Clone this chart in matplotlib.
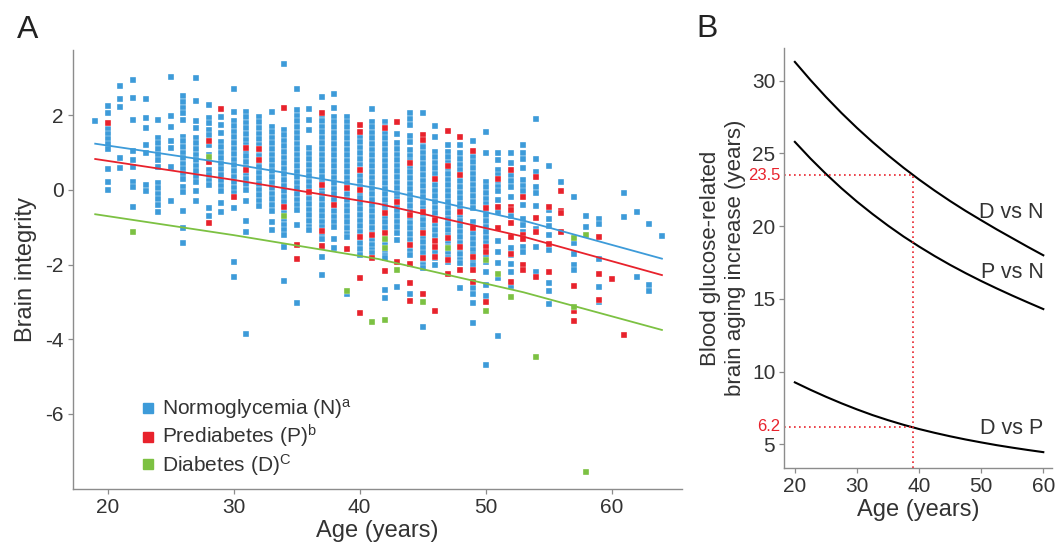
import matplotlib
matplotlib.use('Agg')
import matplotlib.pyplot as plt
from matplotlib.lines import Line2D

plt.rcParams['font.family'] = ['Liberation Sans', 'DejaVu Sans']
plt.rcParams['axes.unicode_minus'] = False
plt.rcParams['mathtext.fontset'] = 'custom'
plt.rcParams['mathtext.rm'] = 'Liberation Sans'
plt.rcParams['mathtext.it'] = 'Liberation Sans'

# ---------------- Panel A data ----------------
normo_ages = [19, 20, 21, 22, 23, 24, 25, 26, 27, 28, 29, 30, 31, 32, 33, 34, 35, 36, 37, 38, 39,
              40, 41, 42, 43, 44, 45, 46, 47, 48, 49, 50, 51, 52, 53, 54, 55, 56, 57, 58, 59,
              61, 62, 63, 64]
normo_vals = [
    [1.86],
    [2.26, 2.05, 1.63, 1.5, 1.37, 1.24, 1.1, 0.56, 0.22, 0.0],
    [2.78, 2.43, 2.21, 0.85, 0.6],
    [2.96, 2.46, 1.87, 1.04, 0.8, 0.62, 0.22, 0.09, -0.46],
    [2.43, 1.94, 1.67, 1.2, 0.98, 0.13, -0.03],
    [1.88, 1.4, 1.25, 1.1, 0.95, 0.8, 0.62, 0.18, 0.05, -0.1, -0.25, -0.4, -0.58],
    [3.04, 1.99, 1.7, 1.31, 1.12, 0.62, -0.29],
    [2.52, 2.35, 2.2, 2.05, 1.88, 1.43, 1.3, 1.15, 1.0, 0.85, 0.7, 0.55, 0.42, 0.29, 0.09, -0.06,
     -0.56, -1.03, -1.43],
    [2.99, 2.39, 1.85, 1.65, 1.38, 1.25, 1.1, 0.95, 0.8, 0.65, 0.5, 0.36, 0.22, -0.04, -0.29],
    [2.29, 1.94, 1.8, 1.6, 1.47, 1.2, 0.94, 0.54, 0.4, 0.25, 0.13, -0.47, -0.71],
    [1.96, 1.74, 1.54, 1.28, 1.15, 1.0, 0.85, 0.7, 0.55, 0.4, 0.25, 0.1, -0.03, -0.36, -0.58],
    [2.7, 2.1, 1.86, 1.71, 1.56, 1.41, 1.26, 1.11, 0.96, 0.81, 0.66, 0.51, 0.36, 0.21, 0.06, -0.09,
     -0.49, -1.92, -2.32],
    [2.1, 1.95, 1.8, 1.65, 1.5, 1.35, 1.2, 1.05, 0.9, 0.75, 0.6, 0.45, 0.3, 0.15, 0.0, -0.29,
     -0.82, -1.12, -3.87],
    [1.96, 1.81, 1.66, 1.51, 1.36, 1.21, 1.06, 0.91, 0.76, 0.61, 0.46, 0.31, 0.16, 0.01, -0.14,
     -0.29, -0.44],
    [2.1, 1.7, 1.55, 1.4, 1.25, 1.1, 0.95, 0.8, 0.65, 0.5, 0.35, 0.2, 0.05, -0.1, -0.25, -0.4,
     -0.55, -0.85, -1.07],
    [3.37, 1.61, 1.47, 1.32, 1.17, 1.02, 0.87, 0.72, 0.57, 0.42, 0.27, 0.12, -0.03, -0.18, -0.33,
     -0.48, -0.63, -0.78, -0.93, -1.08, -1.2, -1.52, -2.44],
    [2.7, 2.14, 1.99, 1.84, 1.69, 1.54, 1.39, 1.24, 1.09, 0.94, 0.79, 0.64, 0.49, 0.34, 0.19, 0.04,
     -0.11, -0.26, -0.41, -0.54, -0.94, -3.02],
    [2.17, 1.88, 1.61, 1.12, 0.97, 0.82, 0.67, 0.52, 0.37, 0.22, 0.07, -0.08, -0.23, -0.38, -0.53,
     -0.68, -0.83, -0.98, -1.07],
    [2.48, 2.0, 1.85, 1.7, 1.55, 1.4, 1.25, 1.1, 0.95, 0.8, 0.65, 0.5, 0.35, 0.2, 0.05, -0.1,
     -0.25, -0.4, -0.55, -0.7, -0.85, -1.0, -1.15, -1.3, -1.52, -1.79, -2.28],
    [2.56, 2.2, 1.96, 1.83, 1.68, 1.53, 1.38, 1.23, 1.08, 0.93, 0.78, 0.63, 0.48, 0.33, 0.18, 0.03,
     -0.12, -0.27, -0.42, -0.57, -0.72, -0.87, -0.98, -1.3, -1.55],
    [1.96, 1.83, 1.68, 1.53, 1.38, 1.23, 1.08, 0.93, 0.78, 0.63, 0.48, 0.33, 0.18, 0.03, -0.12,
     -0.27, -0.42, -0.57, -0.72, -0.87, -1.02, -1.17, -1.25, -2.8],
    [1.43, 1.28, 1.13, 0.98, 0.83, 0.68, 0.53, 0.38, 0.23, 0.08, -0.07, -0.22, -0.37, -0.52, -0.67,
     -0.82, -0.97, -1.12, -1.27, -1.42, -1.57, -1.74],
    [2.17, 1.83, 1.68, 1.53, 1.38, 1.23, 1.08, 0.93, 0.78, 0.63, 0.48, 0.33, 0.18, 0.03, -0.12,
     -0.27, -0.42, -0.57, -0.72, -0.87, -1.02, -1.17, -1.32, -1.47, -1.62, -1.7],
    [1.83, 1.68, 1.53, 1.38, 1.23, 1.08, 0.93, 0.78, 0.63, 0.48, 0.33, 0.18, 0.03, -0.12, -0.27,
     -0.42, -0.57, -0.72, -0.87, -1.02, -1.17, -1.32, -1.47, -1.62, -1.77, -1.83, -2.68, -2.9],
    [1.49, 1.25, 1.1, 0.95, 0.8, 0.65, 0.5, 0.35, 0.2, 0.05, -0.1, -0.25, -0.4, -0.55, -0.7, -0.85,
     -1.0, -1.15, -1.34, -2.59],
    [2.05, 1.9, 1.74, 1.45, 1.28, 1.07, 0.92, 0.77, 0.62, 0.47, 0.32, 0.17, 0.02, -0.13, -0.28,
     -0.43, -0.58, -0.73, -0.88, -1.03, -1.18, -1.33, -1.48, -1.63, -1.74, -2.8],
    [2.05, 1.3, 1.15, 1.0, 0.85, 0.7, 0.55, 0.4, 0.25, 0.1, -0.05, -0.2, -0.35, -0.5, -0.65, -0.8,
     -0.95, -1.1, -1.25, -1.4, -1.55, -1.7, -1.85, -2.0, -2.1, -3.68],
    [1.72, 1.42, 1.03, 0.88, 0.73, 0.58, 0.43, 0.28, 0.13, -0.02, -0.17, -0.32, -0.47, -0.62,
     -0.77, -0.92, -1.07, -1.22, -1.37, -1.52, -1.67, -1.82, -2.0],
    [1.2, 1.03, 0.88, 0.73, 0.58, 0.43, 0.28, 0.13, -0.02, -0.17, -0.32, -0.47, -0.62, -0.77,
     -0.92, -1.07, -1.22, -1.37, -1.52, -1.67, -1.82, -1.92],
    [1.2, 0.98, 0.83, 0.68, 0.53, 0.38, 0.23, 0.08, -0.07, -0.22, -0.37, -0.52, -0.67, -0.82,
     -0.97, -1.12, -1.27, -1.42, -1.57, -1.72, -1.87, -1.96, -2.63],
    [1.32, 0.89, 0.74, 0.59, 0.44, 0.29, 0.14, -0.01, -0.16, -0.31, -0.49, -0.85, -1.0, -1.15,
     -1.3, -1.45, -1.6, -1.75, -1.9, -2.0, -2.63, -2.8, -3.04, -3.57],
    [1.56, 0.98, 0.22, 0.07, -0.08, -0.23, -0.38, -0.53, -0.68, -0.83, -0.98, -1.13, -1.28, -1.43,
     -1.58, -1.73, -1.92, -2.21, -2.54, -2.83, -4.69],
    [1.0, 0.8, 0.54, 0.39, 0.24, 0.09, -0.04, -0.27, -0.58, -1.38, -1.65, -1.96, -2.37, -3.91],
    [1.0, 0.71, 0.4, 0.25, 0.09, -0.2, -0.7, -1.56, -1.74, -1.99, -2.19, -2.56],
    [1.2, 0.98, 0.83, 0.58, 0.27, 0.12, -0.02, -0.4, -0.78, -0.95, -1.12, -1.52, -1.65],
    [1.89, 0.83, 0.49, 0.09, -0.09, -0.43, -1.04, -1.52, -2.21],
    [0.63, -0.54, -0.79, -0.96, -1.21, -1.61, -2.5, -2.71, -3.06],
    [0.22],
    [-0.2, -1.43, -1.72, -2.01, -2.14],
    [-0.71, -1.0],
    [-0.79, -0.92, -1.86, -2.59, -3.01],
    [-0.09, -0.73],
    [-0.6, -2.34],
    [-0.92, -2.54, -2.71],
    [-1.23],
]

pre_ages = [20, 28, 29, 30, 31, 32, 34, 35, 36, 37, 38, 39, 40, 41, 42, 43, 44, 45, 46, 47, 48,
            49, 50, 51, 52, 53, 54, 55, 56, 57, 59, 60, 61]
pre_vals = [
    [1.79], [1.32, 0.76, -0.89], [2.16], [-0.2], [1.13, 0.54], [1.1, 0.8], [2.19, -0.45],
    [-1.47, -1.85], [-0.06], [2.05, 0.13, -1.1, -1.5], [-0.4], [0.04, -1.59],
    [1.73, 1.55, 0.54, 0.0, -1.25, -2.35, -3.3], [-1.2, -1.83], [1.65, -0.63, -1.16, -2.17],
    [1.81, -0.31, -1.92], [0.71, -0.67, -1.47, -1.99, -2.5, -2.97],
    [1.47, 1.34, -0.58, -1.16, -1.81, -2.78], [0.29, -0.8, -1.38, -1.52, -1.79, -3.24],
    [1.58, 0.63, -1.29, -1.88, -2.25], [1.43, 0.4, -0.58, -1.52, -2.14],
    [1.05, -1.03, -1.79, -2.14, -2.46], [-0.49, -1.52, -1.65, -3.01], [0.29, -0.45, -1.03],
    [0.54, -0.45, -0.54, -0.89, -1.25, -1.72, -2.46], [-0.2, -1.2, -1.3, -2.0, -2.15],
    [0.36, -0.76, -1.12, -2.32], [-0.45, -1.45, -2.21], [-0.02, -0.56, -0.63, -1.12],
    [-2.56, -3.23, -3.5], [-1.25, -2.26, -2.95], [-2.39], [-3.88],
]

diab_ages = [22, 28, 34, 39, 41, 42, 43, 45, 47, 50, 51, 52, 54, 57, 58]
diab_vals = [
    [-1.13], [0.89], [-0.7], [-2.71], [-3.55], [-1.3, -1.56, -3.48], [-2.14], [-2.99], [-1.56],
    [-1.88, -3.24], [-2.26], [-2.88], [-4.48], [-1.29, -3.13], [-1.21, -7.56],
]

fit_ages = [19, 30, 41.5, 53, 64]
fit_normo = [1.24, 0.69, 0.04, -0.82, -1.84]
fit_pre = [0.83, 0.27, -0.37, -1.25, -2.28]
fit_diab = [-0.65, -1.21, -1.85, -2.74, -3.75]

legend_labels = [r'Normoglycemia (N)$^{\mathregular{a}}$',
                 r'Prediabetes (P)$^{\mathregular{b}}$',
                 r'Diabetes (D)$^{\mathregular{C}}$']

# ---------------- Panel B data ----------------
b_ages = [20, 22.5, 25, 27.5, 30, 32.5, 35, 37.5, 40, 42.5, 45, 47.5, 50, 52.5, 55, 57.5, 60]
d_vs_n = [31.3, 30.06, 28.89, 27.79, 26.76, 25.79, 24.88, 24.02, 23.21, 22.45, 21.73, 21.05,
          20.41, 19.78, 19.18, 18.58, 18.0]
p_vs_n = [25.8, 24.66, 23.6, 22.61, 21.69, 20.84, 20.04, 19.29, 18.6, 17.95, 17.34, 16.77,
          16.23, 15.72, 15.23, 14.76, 14.3]
d_vs_p = [9.26, 8.75, 8.27, 7.82, 7.4, 7.01, 6.66, 6.34, 6.05, 5.79, 5.55, 5.33, 5.13, 4.94,
          4.77, 4.61, 4.46]
curve_labels = ['D vs N', 'P vs N', 'D vs P']
mark_age = 39
mark_vals = [23.5, 6.2]

BLUE = '#3d9bd9'
RED = '#e8222c'
GREEN = '#7cc142'
SPINE = '#8c8c8c'
TXT = '#333333'


def flat(ages, vals):
    xs = [a for a, v in zip(ages, vals) for _ in v]
    ys = [y for v in vals for y in v]
    return xs, ys


fig = plt.figure(figsize=(10.56, 5.46), dpi=100)
axA = fig.add_axes([0.0687, 0.1038, 0.5772, 0.8046])
axB = fig.add_axes([0.7427, 0.1434, 0.2535, 0.768])

for ax in (axA, axB):
    for s in ('top', 'right'):
        ax.spines[s].set_visible(False)
    for s in ('left', 'bottom'):
        ax.spines[s].set_color(SPINE)
        ax.spines[s].set_linewidth(1.0)
    ax.tick_params(colors=SPINE, labelcolor=TXT, labelsize=15, length=3.5, width=0.9, pad=3)

msz = 21
for ages, vals, col in ((normo_ages, normo_vals, BLUE), (pre_ages, pre_vals, RED),
                        (diab_ages, diab_vals, GREEN)):
    xs, ys = flat(ages, vals)
    axA.scatter(xs, ys, s=msz, marker='s', c=col, edgecolors='white', linewidths=0.25, zorder=2)

axA.plot(fit_ages, fit_normo, color=BLUE, lw=1.3, zorder=3)
axA.plot(fit_ages, fit_pre, color=RED, lw=1.3, zorder=3)
axA.plot(fit_ages, fit_diab, color=GREEN, lw=1.3, zorder=3)

axA.set_xlim(17.2, 65.6)
axA.set_ylim(-8.02, 3.75)
axA.set_xticks([20, 30, 40, 50, 60])
axA.set_yticks([2, 0, -2, -4, -6])
axA.set_xlabel('Age (years)', fontsize=17, color=TXT, labelpad=2)
axA.set_ylabel('Brain integrity', fontsize=17, color=TXT, labelpad=6)

handles = [Line2D([], [], marker='s', ls='none', color=c, markersize=6.5)
           for c in (BLUE, RED, GREEN)]
leg = axA.legend(handles, legend_labels, loc='upper left', bbox_to_anchor=(0.095, 0.228),
                 frameon=False, fontsize=15, handletextpad=0.2, labelspacing=0.08,
                 handlelength=0.9, borderaxespad=0)
for t in leg.get_texts():
    t.set_color(TXT)

# ---------------- Panel B ----------------
for vals in (d_vs_n, p_vs_n, d_vs_p):
    axB.plot(b_ages, vals, color='black', lw=1.5)

axB.set_xlim(18.3, 61.4)
axB.set_ylim(3.39, 32.23)
y0 = 3.39
dot = (0, (1, 2))
axB.plot([mark_age, mark_age], [y0, max(mark_vals)], color=RED, lw=1.2, ls=dot)
for v in mark_vals:
    axB.plot([18.3, mark_age], [v, v], color=RED, lw=1.2, ls=dot)
    axB.annotate(f'{v}', xy=(0, v), xycoords=('axes fraction', 'data'), xytext=(-3, 0),
                 textcoords='offset points', ha='right', va='center', color=RED, fontsize=12,
                 annotation_clip=False)

axB.text(60.04, 20.97, curve_labels[0], ha='right', va='center', fontsize=15.5, color=TXT)
axB.text(60.04, 16.84, curve_labels[1], ha='right', va='center', fontsize=15.5, color=TXT)
axB.text(60.04, 6.11, curve_labels[2], ha='right', va='center', fontsize=15.5, color=TXT)

axB.set_xticks([20, 30, 40, 50, 60])
axB.set_yticks([5, 10, 15, 20, 25, 30])
axB.set_xlabel('Age (years)', fontsize=17, color=TXT, labelpad=2)
axB.set_ylabel('Blood glucose-related\nbrain aging increase (years)', fontsize=16,
               color=TXT, labelpad=4, linespacing=1.25)

fig.text(0.0158, 0.93, 'A', fontsize=23, color='#222222', ha='left', va='baseline')
fig.text(0.659, 0.933, 'B', fontsize=23, color='#222222', ha='left', va='baseline')

fig.savefig('out.png', dpi=100)
